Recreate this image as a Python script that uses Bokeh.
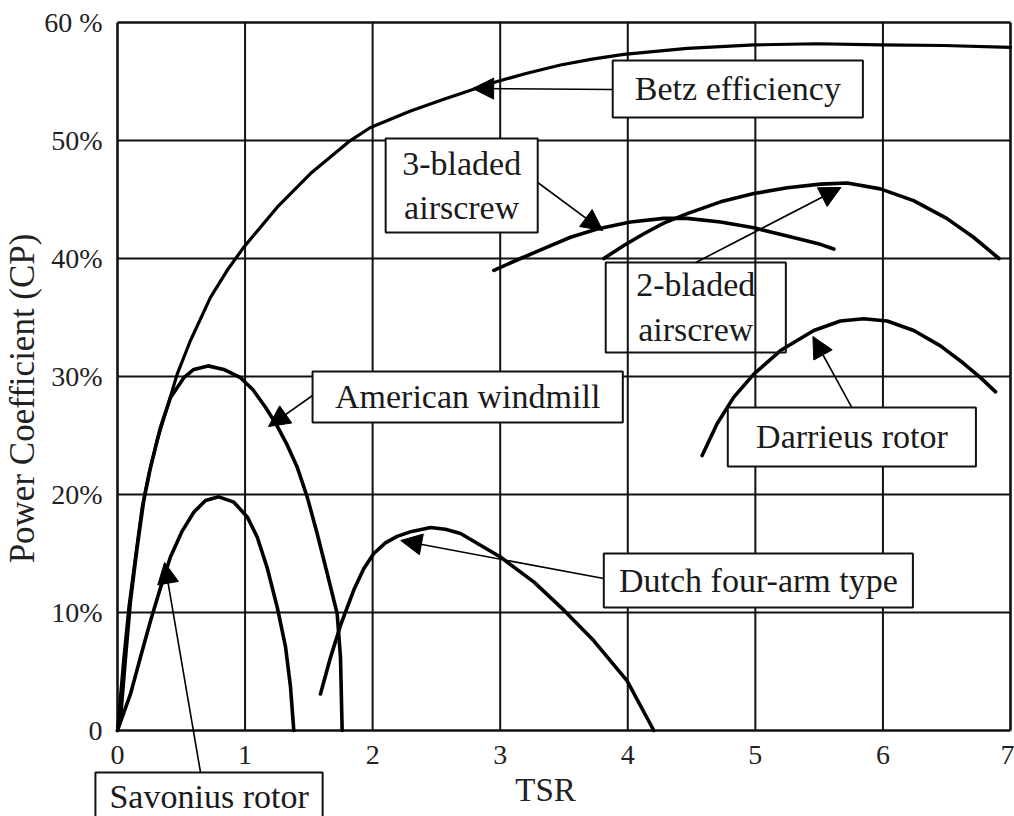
from bokeh.plotting import figure
from bokeh.models import Label, Arrow, NormalHead, BoxAnnotation, FixedTicker, Range1d
from bokeh.embed import file_html
from bokeh.resources import INLINE

# ---- data (TSR vs power coefficient in %) ----
betz_x = [0, 0.05, 0.089, 0.141, 0.193, 0.246, 0.311, 0.39, 0.468, 0.572, 0.729, 0.86, 0.99,
          1.252, 1.513, 1.813, 1.983, 2.297, 2.558, 2.78, 2.976, 3.21, 3.473, 3.72, 3.969, 4.466, 4.99,
          5.485, 5.98, 6.477, 7.0]
betz_y = [0, 6.2, 10.45, 14.7, 18.9, 21.75, 24.6, 27.4, 30.2, 33.05, 36.7, 39.0, 40.96,
          44.35, 47.2, 49.9, 51.1, 52.5, 53.5, 54.3, 55.0, 55.7, 56.4, 56.9, 57.3, 57.8, 58.1,
          58.2, 58.1, 58.05, 57.9]

american_x = [0, 0.024, 0.063, 0.102, 0.154, 0.206, 0.259, 0.337, 0.415, 0.52, 0.598, 0.71, 0.833,
              0.964, 1.06, 1.16, 1.252, 1.33, 1.409, 1.487, 1.565, 1.644, 1.722, 1.748, 1.761]
american_y = [0, 1.1, 6.2, 11.0, 15.5, 19.5, 22.3, 25.7, 28.2, 29.9, 30.6, 30.9, 30.6,
              29.9, 28.9, 27.4, 25.8, 24.2, 22.3, 19.8, 16.7, 13.3, 9.9, 6.2, 0]

savonius_x = [0, 0.102, 0.18, 0.259, 0.337, 0.415, 0.507, 0.598, 0.69, 0.794, 0.912, 1.017,
              1.095, 1.173, 1.252, 1.317, 1.356, 1.382]
savonius_y = [0, 3.1, 6.2, 9.3, 12.1, 14.7, 16.9, 18.5, 19.5, 19.8, 19.35, 18.1,
              16.4, 13.8, 10.45, 7.1, 3.7, 0]

dutch_x = [1.591, 1.67, 1.748, 1.852, 1.93, 2.009, 2.1, 2.192, 2.3, 2.454, 2.57, 2.689, 3.002,
           3.263, 3.499, 3.734, 3.995, 4.204]
dutch_y = [3.1, 6.2, 8.9, 11.9, 13.7, 15.0, 15.9, 16.45, 16.85, 17.2, 17.05, 16.7, 14.7,
           12.6, 10.2, 7.6, 4.2, 0]

three_x = [2.95, 3.159, 3.368, 3.551, 3.76, 4.021, 4.282, 4.466, 4.727, 4.988, 5.25, 5.51, 5.615]
three_y = [39.0, 40.0, 40.96, 41.8, 42.5, 43.1, 43.4, 43.4, 43.1, 42.6, 41.9, 41.2, 40.8]

two_x = [3.812, 3.969, 4.126, 4.282, 4.466, 4.727, 4.988, 5.25, 5.51, 5.72, 5.98, 6.24, 6.5, 6.71, 6.91]
two_y = [40.0, 41.1, 42.1, 43.0, 43.8, 44.8, 45.5, 46.0, 46.3, 46.4, 45.9, 44.9, 43.4, 41.8, 40.0]

darrieus_x = [4.583, 4.70, 4.831, 4.988, 5.197, 5.458, 5.667, 5.85, 6.033, 6.242, 6.451, 6.634, 6.765, 6.883]
darrieus_y = [23.3, 26.0, 28.25, 30.2, 32.2, 33.9, 34.7, 34.9, 34.7, 33.9, 32.6, 31.1, 29.9, 28.7]

x_ticks = [0, 1, 2, 3, 4, 5, 6, 7]
y_ticks = [0, 10, 20, 30, 40, 50, 60]
y_tick_labels = ["0", "10%", "20%", "30%", "40%", "50%", "60 %"]

FONT = "Liberation Serif"
INK = "#111111"

# The frame fills the whole canvas so that boxes and titles below/left of the
# chart area are not clipped; axes are pinned to x=0 / y=0.
p = figure(width=1014, height=816, x_range=Range1d(-0.9171, 7.0314), y_range=Range1d(-7.288, 61.864),
           output_backend="svg", toolbar_location=None, min_border=0)
p.background_fill_color = "white"
p.border_fill_color = "white"
p.outline_line_color = None
p.xgrid.visible = False
p.ygrid.visible = False

for ax in (p.xaxis[0], p.yaxis[0]):
    ax.fixed_location = 0
    ax.axis_line_color = None
    ax.major_tick_line_color = None
    ax.minor_tick_line_color = None
    ax.major_label_text_font = FONT
    ax.major_label_text_font_size = "28px"
    ax.major_label_text_color = "#222222"

p.xaxis.ticker = FixedTicker(ticks=x_ticks)
p.yaxis.ticker = FixedTicker(ticks=y_ticks)
p.yaxis.major_label_overrides = {t: s for t, s in zip(y_ticks, y_tick_labels)}
p.xaxis.major_label_standoff = 9
p.yaxis.major_label_standoff = 9

# grid lines and frame, built from the tick lists
x_lo, x_hi = x_ticks[0], x_ticks[-1]
y_lo, y_hi = y_ticks[0], y_ticks[-1]
inner_x = x_ticks[1:-1]
inner_y = y_ticks[1:-1]
p.segment(x0=inner_x, y0=[y_lo] * len(inner_x), x1=inner_x, y1=[y_hi] * len(inner_x),
          line_color=INK, line_width=2)
p.segment(x0=[x_lo] * len(inner_y), y0=inner_y, x1=[x_hi] * len(inner_y), y1=inner_y,
          line_color=INK, line_width=2)
p.segment(x0=[x_lo, x_hi, x_lo, x_lo], y0=[y_lo, y_lo, y_lo, y_hi],
          x1=[x_lo, x_hi, x_hi, x_hi], y1=[y_hi, y_hi, y_lo, y_hi],
          line_color=INK, line_width=2.6)

curves = [(betz_x, betz_y, 3.2), (american_x, american_y, 3.6), (savonius_x, savonius_y, 3.6),
          (dutch_x, dutch_y, 3.6), (three_x, three_y, 3.6), (two_x, two_y, 3.6),
          (darrieus_x, darrieus_y, 3.6)]
for cx, cy, w in curves:
    p.line(cx, cy, line_color="black", line_width=w, line_join="round", line_cap="round")

# ---- annotation boxes: (text, left, right, top, bottom, text_x, text_y, opaque)
boxes = [
    ("Betz efficiency", 3.882, 5.843, 56.78, 51.95, 4.863, 54.4, True),
    ("3-bladed\nairscrew", 2.102, 3.294, 50.17, 42.2, 2.698, 46.2, True),
    ("2-bladed\nairscrew", 3.827, 5.239, 39.66, 32.03, 4.533, 35.9, False),
    ("American windmill", 1.529, 3.961, 30.42, 26.1, 2.745, 28.3, True),
    ("Darrieus rotor", 4.784, 6.729, 27.37, 22.37, 5.757, 24.9, True),
    ("Dutch four-arm type", 3.812, 6.235, 15.0, 10.42, 5.024, 12.75, True),
    ("Savonius rotor", -0.173, 1.608, -3.56, -7.8, 0.718, -5.6, True),
]
for text, l, r, t, b, tx, ty, opaque in boxes:
    p.add_layout(BoxAnnotation(left=l, right=r, top=t, bottom=b,
                               fill_color="white", fill_alpha=1.0 if opaque else 0.0,
                               line_color=INK, line_width=2, line_alpha=1.0))
    p.add_layout(Label(x=tx, y=ty, text=text, text_font=FONT, text_font_size="34px",
                       text_color="#1a1a1a", text_align="center", text_baseline="middle",
                       text_line_height=1.2))

# ---- arrows: (x_start, y_start, x_end, y_end)
arrows = [
    (3.882, 54.32, 2.784, 54.41),
    (3.294, 46.44, 3.804, 42.37),
    (4.533, 39.66, 5.671, 46.02),
    (1.529, 28.39, 1.184, 25.76),
    (5.757, 27.37, 5.451, 33.39),
    (3.812, 12.88, 2.22, 16.1),
    (0.651, -3.56, 0.369, 14.24),
]
for xs, ys, xe, ye in arrows:
    p.add_layout(Arrow(x_start=xs, y_start=ys, x_end=xe, y_end=ye, line_color="black", line_width=1.6,
                       end=NormalHead(size=21, fill_color="black", line_color="black", line_width=1)))

# ---- axis titles
p.add_layout(Label(x=-0.745, y=28.14, text="Power Coefficient (CP)", angle=1.5708,
                   text_font=FONT, text_font_size="35px", text_color="#222222",
                   text_align="center", text_baseline="middle"))
p.add_layout(Label(x=3.355, y=-5.08, text="TSR", text_font=FONT, text_font_size="33px",
                   text_color="#222222", text_align="center", text_baseline="middle"))

open("out.html", "w").write(file_html(p, INLINE))
